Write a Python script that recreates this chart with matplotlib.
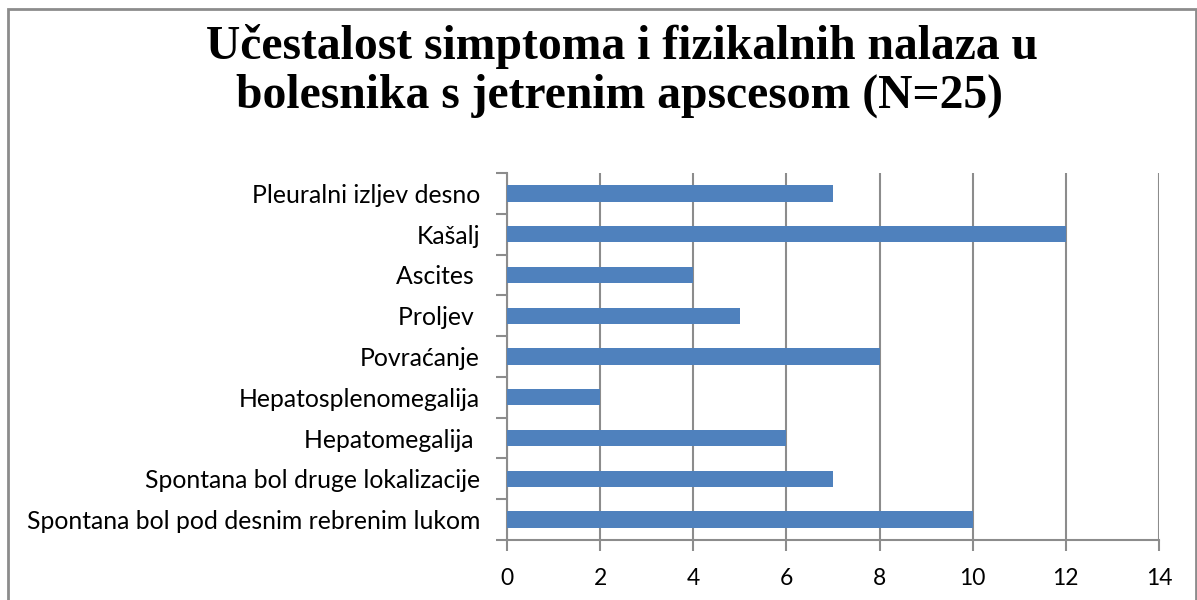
import matplotlib
matplotlib.use("Agg")
import matplotlib.pyplot as plt
from matplotlib.patches import Rectangle
import numpy as np

categories = [
    "Spontana bol pod desnim rebrenim lukom",
    "Spontana bol druge lokalizacije",
    "Hepatomegalija ",
    "Hepatosplenomegalija",
    "Povraćanje",
    "Proljev ",
    "Ascites ",
    "Kašalj",
    "Pleuralni izljev desno",
]
values = [10, 7, 6, 2, 8, 5, 4, 12, 7]
xticks = [0, 2, 4, 6, 8, 10, 12, 14]
title_lines = ["Učestalost simptoma i fizikalnih nalaza u",
               "bolesnika s jetrenim apscesom (N=25)"]

fig = plt.figure(figsize=(11.97, 6.0), dpi=100)
ax = fig.add_axes([507/1197, 60/600, (1159-507)/1197, (540-173)/600])

y = np.arange(len(categories))
ax.barh(y, values, height=0.4, color="#4F81BD", zorder=3)

ax.set_xlim(0, 14)
ax.set_ylim(-0.5, len(categories) - 0.5)
ax.set_xticks(xticks)
ax.set_xticklabels([str(t) for t in xticks], fontsize=16.5, family="Lato")
ax.set_yticks(y)
ax.set_yticklabels(categories, fontsize=17.8, family="Lato")
ax.set_yticks(np.arange(-0.5, len(categories), 1.0), minor=True)

ax.grid(axis="x", color="#8c8c8c", linewidth=1.5, zorder=1)
for s in ["top", "right"]:
    ax.spines[s].set_visible(False)
for s in ["left", "bottom"]:
    ax.spines[s].set_color("#8c8c8c")
    ax.spines[s].set_linewidth(1.5)
ax.tick_params(axis="x", which="major", length=8, width=1.5, color="#8c8c8c", pad=12)
ax.tick_params(axis="y", which="major", length=0, pad=19.5)
ax.tick_params(axis="y", which="minor", length=8, width=1.5, color="#8c8c8c")

fig.text(622/1197, 1 - 59/600, title_lines[0], ha="center", va="baseline",
         fontsize=34.3, fontweight="bold", family="Liberation Serif")
fig.text(620/1197, 1 - 108/600, title_lines[1], ha="center", va="baseline",
         fontsize=34.3, fontweight="bold", family="Liberation Serif")

fig.patches.append(Rectangle((8/1197, -0.1), (1196-8)/1197, 1.1 - 9/600,
                             transform=fig.transFigure, fill=False,
                             edgecolor="#8c8c8c", linewidth=2))

fig.savefig("out.png", dpi=100)
